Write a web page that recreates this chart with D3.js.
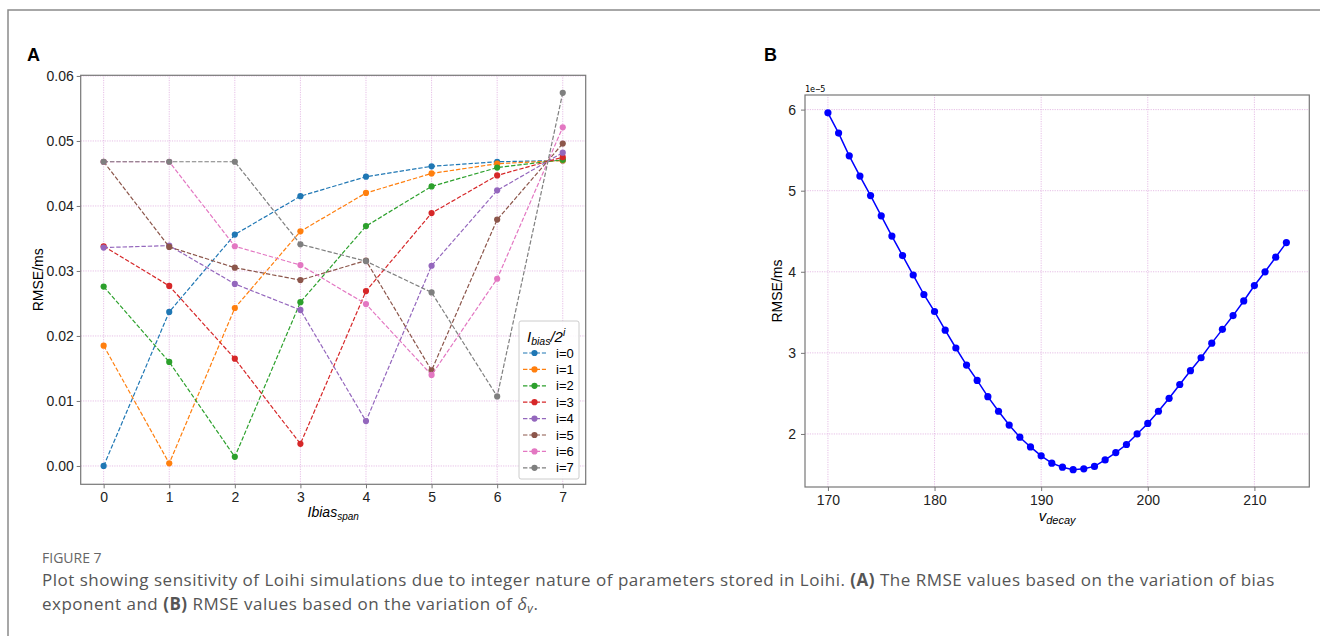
<!DOCTYPE html>
<html>
<head>
<meta charset="utf-8">
<script src="https://cdn.jsdelivr.net/npm/d3@7"></script>
<style>
  body { margin: 0; background: #fff; }
  svg { display: block; }
  .tick text { font-family: "Liberation Sans", Arial, sans-serif; fill: #222; }
</style>
</head>
<body>
<svg id="fig" width="1320" height="636"></svg>
<script>
// ---- data: panel A ----
var spanSteps = [0, 1, 2, 3, 4, 5, 6, 7];
var seriesNames = ["i=0", "i=1", "i=2", "i=3", "i=4", "i=5", "i=6", "i=7"];
var rmse_i0 = [0.0000, 0.0237, 0.0356, 0.0415, 0.0445, 0.0461, 0.0468, 0.0470];
var rmse_i1 = [0.0185, 0.0004, 0.0243, 0.0361, 0.0420, 0.0450, 0.0465, 0.0470];
var rmse_i2 = [0.0276, 0.0160, 0.0014, 0.0252, 0.0369, 0.0430, 0.0459, 0.0471];
var rmse_i3 = [0.0338, 0.0277, 0.0165, 0.0034, 0.0269, 0.0389, 0.0447, 0.0475];
var rmse_i4 = [0.0336, 0.0339, 0.0280, 0.0240, 0.0069, 0.0308, 0.0424, 0.0482];
var rmse_i5 = [0.0468, 0.0337, 0.0305, 0.0286, 0.0316, 0.0147, 0.0379, 0.0496];
var rmse_i6 = [0.0468, 0.0468, 0.0338, 0.0309, 0.0249, 0.0140, 0.0288, 0.0521];
var rmse_i7 = [0.0468, 0.0468, 0.0468, 0.0341, 0.0315, 0.0267, 0.0107, 0.0574];
var tab10 = ["#1f77b4", "#ff7f0e", "#2ca02c", "#d62728", "#9467bd", "#8c564b", "#e377c2", "#7f7f7f"];
var yTicksA = [0.00, 0.01, 0.02, 0.03, 0.04, 0.05, 0.06];

// ---- data: panel B (values in units of 1e-5) ----
var vDecay = d3.range(170, 214);
var rmseB = [5.96, 5.71, 5.43, 5.18, 4.94, 4.69, 4.44, 4.20, 3.96, 3.72,
             3.51, 3.28, 3.06, 2.85, 2.66, 2.46, 2.28, 2.11, 1.96, 1.84,
             1.73, 1.64, 1.59, 1.56, 1.57, 1.60, 1.68, 1.77, 1.87, 2.00,
             2.13, 2.28, 2.44, 2.61, 2.78, 2.94, 3.12, 3.29, 3.46, 3.64,
             3.83, 4.00, 4.18, 4.36];
var xTicksB = [170, 180, 190, 200, 210];
var yTicksB = [2, 3, 4, 5, 6];

var allA = [rmse_i0, rmse_i1, rmse_i2, rmse_i3, rmse_i4, rmse_i5, rmse_i6, rmse_i7];

var svg = d3.select("#fig");
var gridColor = "#e3b8e3";
var spineColor = "#777";
var chartFont = "Liberation Sans, Arial, sans-serif";

// outer frame (top + left edges visible)
svg.append("rect")
    .attr("x", 8).attr("y", 10)
    .attr("width", 1330).attr("height", 640)
    .attr("fill", "none")
    .attr("stroke", "#8a8a8a")
    .attr("stroke-width", 1.5);

// panel letters
svg.append("text").attr("x", 27).attr("y", 61).text("A")
    .style("font-family", chartFont)
    .style("font-weight", "bold").style("font-size", "18px");
svg.append("text").attr("x", 764).attr("y", 61).text("B")
    .style("font-family", chartFont)
    .style("font-weight", "bold").style("font-size", "18px");

function drawGrid(g, x, y, xt, yt) {
    var xr = x.range(), yr = y.range();
    g.selectAll(".gx").data(xt).join("line")
        .attr("x1", d => x(d)).attr("x2", d => x(d))
        .attr("y1", yr[0]).attr("y2", yr[1])
        .attr("stroke", gridColor).attr("stroke-width", 0.9)
        .attr("stroke-dasharray", "1.2,1.2");
    g.selectAll(".gy").data(yt).join("line")
        .attr("y1", d => y(d)).attr("y2", d => y(d))
        .attr("x1", xr[0]).attr("x2", xr[1])
        .attr("stroke", gridColor).attr("stroke-width", 0.9)
        .attr("stroke-dasharray", "1.2,1.2");
}

function drawFrame(g, x, y) {
    var xr = x.range(), yr = y.range();
    g.append("rect")
        .attr("x", xr[0]).attr("y", yr[1])
        .attr("width", xr[1] - xr[0]).attr("height", yr[0] - yr[1])
        .attr("fill", "none").attr("stroke", spineColor).attr("stroke-width", 1.2);
}

// ================= Panel A =================
var xA = d3.scaleLinear().domain([-0.35, 7.35]).range([80.7, 585.7]);
var yA = d3.scaleLinear().domain([-0.00282, 0.0601]).range([484.3, 75.3]);
var gA = svg.append("g");

drawGrid(gA.append("g"), xA, yA, spanSteps, yTicksA);

gA.append("g")
    .attr("transform", "translate(0," + yA.range()[0] + ")")
    .call(d3.axisBottom(xA).tickValues(spanSteps).tickSize(4).tickPadding(4).tickSizeOuter(0))
    .call(g => g.select(".domain").remove())
    .call(g => g.selectAll(".tick line").attr("stroke", spineColor))
    .call(g => g.selectAll(".tick text").style("font-size", "14px"));

gA.append("g")
    .attr("transform", "translate(" + xA.range()[0] + ",0)")
    .call(d3.axisLeft(yA).tickValues(yTicksA).tickFormat(d3.format(".2f")).tickSize(4).tickPadding(3).tickSizeOuter(0))
    .call(g => g.select(".domain").remove())
    .call(g => g.selectAll(".tick line").attr("stroke", spineColor))
    .call(g => g.selectAll(".tick text").style("font-size", "14px"));

var lineA = d3.line().x((d, i) => xA(spanSteps[i])).y(d => yA(d));

allA.forEach(function (vals, k) {
    gA.append("path")
        .datum(vals)
        .attr("fill", "none")
        .attr("stroke", tab10[k])
        .attr("stroke-width", 1.2)
        .attr("stroke-dasharray", "4.4,1.9")
        .attr("d", lineA);
    gA.selectAll(".pt" + k)
        .data(vals)
        .join("circle")
        .attr("cx", (d, i) => xA(spanSteps[i]))
        .attr("cy", d => yA(d))
        .attr("r", 3.1)
        .attr("fill", tab10[k]);
});

drawFrame(gA, xA, yA);

// axis labels A
gA.append("text")
    .attr("transform", "translate(43," + ((yA.range()[0] + yA.range()[1]) / 2) + ") rotate(-90)")
    .attr("text-anchor", "middle")
    .style("font-family", chartFont).style("font-size", "14px")
    .text("RMSE/ms");

var xlabA = gA.append("text")
    .attr("x", (xA.range()[0] + xA.range()[1]) / 2).attr("y", 517)
    .attr("text-anchor", "middle")
    .style("font-family", chartFont).style("font-size", "14px")
    .style("font-style", "italic");
xlabA.append("tspan").text("Ibias");
xlabA.append("tspan").attr("dy", 3).style("font-size", "10px").text("span");

// legend A
var leg = gA.append("g").attr("transform", "translate(519,321)");
leg.append("rect")
    .attr("width", 60).attr("height", 158).attr("rx", 2)
    .attr("fill", "#fff").attr("fill-opacity", 0.85)
    .attr("stroke", "#ccc").attr("stroke-width", 1);
var lt = leg.append("text").attr("x", 8).attr("y", 21)
    .style("font-family", chartFont).style("font-size", "15px")
    .style("font-style", "italic");
lt.append("tspan").text("I");
lt.append("tspan").attr("dy", 3).style("font-size", "10.5px").text("bias");
lt.append("tspan").attr("dy", -3).text("/2");
lt.append("tspan").attr("dy", -6).style("font-size", "10.5px").text("i");

seriesNames.forEach(function (name, k) {
    var yy = 32 + k * 16.4;
    leg.append("line")
        .attr("x1", 4).attr("x2", 27).attr("y1", yy).attr("y2", yy)
        .attr("stroke", tab10[k]).attr("stroke-width", 1.2)
        .attr("stroke-dasharray", "4.4,1.9");
    leg.append("circle").attr("cx", 15.5).attr("cy", yy).attr("r", 3.1).attr("fill", tab10[k]);
    leg.append("text").attr("x", 37).attr("y", yy + 4.5)
        .style("font-family", chartFont).style("font-size", "13px")
        .text(name);
});

// ================= Panel B =================
var xB = d3.scaleLinear().domain([167.85, 215.15]).range([805, 1309.3]);
var yB = d3.scaleLinear().domain([1.346, 6.18]).range([487, 95]);
var gB = svg.append("g");

drawGrid(gB.append("g"), xB, yB, xTicksB, yTicksB);

gB.append("g")
    .attr("transform", "translate(0," + yB.range()[0] + ")")
    .call(d3.axisBottom(xB).tickValues(xTicksB).tickSize(4).tickPadding(4).tickSizeOuter(0))
    .call(g => g.select(".domain").remove())
    .call(g => g.selectAll(".tick line").attr("stroke", spineColor))
    .call(g => g.selectAll(".tick text").style("font-size", "14px"));

gB.append("g")
    .attr("transform", "translate(" + xB.range()[0] + ",0)")
    .call(d3.axisLeft(yB).tickValues(yTicksB).tickFormat(d3.format("d")).tickSize(4).tickPadding(5).tickSizeOuter(0))
    .call(g => g.select(".domain").remove())
    .call(g => g.selectAll(".tick line").attr("stroke", spineColor))
    .call(g => g.selectAll(".tick text").style("font-size", "14px"));

gB.append("path")
    .datum(rmseB)
    .attr("fill", "none")
    .attr("stroke", "#0000ff")
    .attr("stroke-width", 1.5)
    .attr("d", d3.line().x((d, i) => xB(vDecay[i])).y(d => yB(d)));

gB.selectAll(".ptB")
    .data(rmseB)
    .join("circle")
    .attr("cx", (d, i) => xB(vDecay[i]))
    .attr("cy", d => yB(d))
    .attr("r", 3.6)
    .attr("fill", "#0000ff");

drawFrame(gB, xB, yB);

gB.append("text").attr("x", 805).attr("y", 92)
    .style("font-family", "DejaVu Sans Mono, monospace").style("font-size", "8.5px")
    .text("1e\u22125");

gB.append("text")
    .attr("transform", "translate(782," + ((yB.range()[0] + yB.range()[1]) / 2) + ") rotate(-90)")
    .attr("text-anchor", "middle")
    .style("font-family", chartFont).style("font-size", "14px")
    .text("RMSE/ms");

var xlabB = gB.append("text")
    .attr("x", (xB.range()[0] + xB.range()[1]) / 2).attr("y", 521)
    .attr("text-anchor", "middle")
    .style("font-family", chartFont).style("font-size", "15px")
    .style("font-style", "italic");
xlabB.append("tspan").text("v");
xlabB.append("tspan").attr("dy", 3).style("font-size", "11px").text("decay");

// ================= Caption =================
var capFont = "Open Sans, Lato, sans-serif";
svg.append("text").attr("x", 42).attr("y", 563)
    .style("font-family", capFont).style("font-size", "14px").style("fill", "#666")
    .text("FIGURE 7");

var c1 = svg.append("text").attr("x", 42).attr("y", 586)
    .style("font-family", capFont).style("font-size", "17px").style("fill", "#555")
    .style("letter-spacing", "0.5px");
c1.append("tspan").text("Plot showing sensitivity of Loihi simulations due to integer nature of parameters stored in Loihi. ");
c1.append("tspan").style("font-weight", "bold").text("(A)");
c1.append("tspan").text(" The RMSE values based on the variation of bias");

var c2 = svg.append("text").attr("x", 42).attr("y", 610)
    .style("font-family", capFont).style("font-size", "17px").style("fill", "#555")
    .style("letter-spacing", "0.5px");
c2.append("tspan").text("exponent and ");
c2.append("tspan").style("font-weight", "bold").text("(B)");
c2.append("tspan").text(" RMSE values based on the variation of ");
c2.append("tspan").style("font-style", "italic").text("\u03b4");
c2.append("tspan").attr("dy", 3).style("font-size", "12px").style("font-style", "italic").text("v");
c2.append("tspan").attr("dy", -3).text(".");
</script>
</body>
</html>
